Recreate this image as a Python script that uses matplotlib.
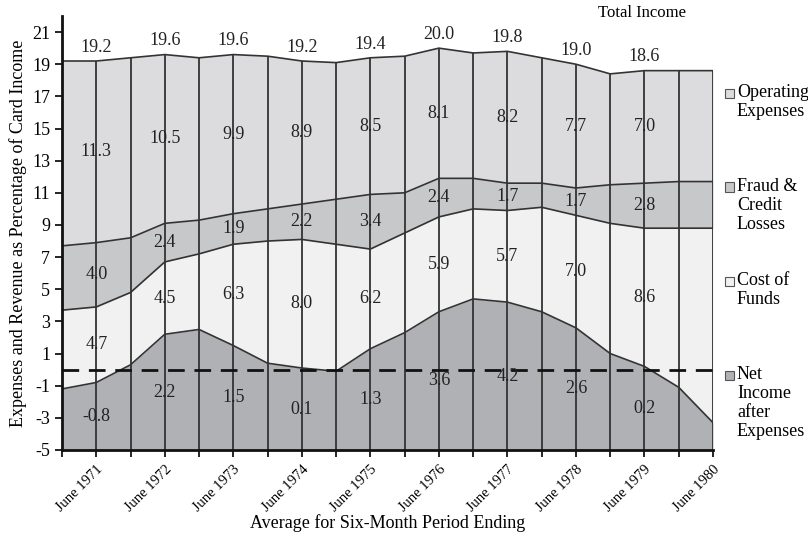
import matplotlib
matplotlib.use("Agg")
import matplotlib.pyplot as plt
from matplotlib.patches import Rectangle

# half-year periods, Dec 1970 .. June 1980
periods = ["Dec 1970", "June 1971", "Dec 1971", "June 1972", "Dec 1972", "June 1973",
           "Dec 1973", "June 1974", "Dec 1974", "June 1975", "Dec 1975", "June 1976",
           "Dec 1976", "June 1977", "Dec 1977", "June 1978", "Dec 1978", "June 1979",
           "Dec 1979", "June 1980"]

# layer boundaries (percent of card income)
total_income = [19.2, 19.2, 19.4, 19.6, 19.4, 19.6, 19.5, 19.2, 19.1, 19.4,
                19.5, 20.0, 19.7, 19.8, 19.4, 19.0, 18.4, 18.6, 18.6, 18.6]
fraud_top = [7.7, 7.9, 8.2, 9.1, 9.3, 9.7, 10.0, 10.3, 10.6, 10.9,
             11.0, 11.9, 11.9, 11.6, 11.6, 11.3, 11.5, 11.6, 11.7, 11.7]
funds_top = [3.7, 3.9, 4.8, 6.7, 7.2, 7.8, 8.0, 8.1, 7.8, 7.5,
             8.5, 9.5, 10.0, 9.9, 10.1, 9.6, 9.1, 8.8, 8.8, 8.8]
net_income = [-1.2, -0.8, 0.3, 2.2, 2.5, 1.5, 0.4, 0.1, -0.1, 1.3,
              2.3, 3.6, 4.4, 4.2, 3.6, 2.6, 1.0, 0.2, -1.1, -3.3]

labelled = [1, 3, 5, 7, 9, 11, 13, 15, 17]

legend_items = ["Operating\nExpenses", "Fraud &\nCredit\nLosses", "Cost of\nFunds",
                "Net\nIncome\nafter\nExpenses"]

c_op = "#dcdcde"
c_fraud = "#c7c8ca"
c_funds = "#f1f1f1"
c_net = "#afb1b4"
edge = "#333333"
floor = -5

plt.rcParams["font.family"] = ["Liberation Serif", "DejaVu Serif"]
plt.rcParams["axes.unicode_minus"] = False

fig = plt.figure(figsize=(8.08, 5.37), dpi=100)
ax = fig.add_axes([62 / 808, 87 / 537, 651 / 808, 434 / 537])

x = list(range(len(periods)))
ax.fill_between(x, floor, net_income, color=c_net, lw=0)
ax.fill_between(x, net_income, funds_top, color=c_funds, lw=0)
ax.fill_between(x, funds_top, fraud_top, color=c_fraud, lw=0)
ax.fill_between(x, fraud_top, total_income, color=c_op, lw=0)
for b in (net_income, funds_top, fraud_top, total_income):
    ax.plot(x, b, color=edge, lw=1.2)
ax.vlines(x, floor, total_income, color=edge, lw=1.3)
ax.axhline(0, color="#111111", lw=2, ls=(0, (6, 3.5)))

for i in labelled:
    layers = [(floor, net_income[i], net_income[i]),
              (net_income[i], funds_top[i], funds_top[i] - net_income[i]),
              (funds_top[i], fraud_top[i], fraud_top[i] - funds_top[i]),
              (fraud_top[i], total_income[i], total_income[i] - fraud_top[i])]
    for lo, hi, v in layers:
        ax.text(i, (lo + hi) / 2, f"{v:.1f}", ha="center", va="center", fontsize=13, color="#222222")
    ax.text(i, total_income[i] + 0.85, f"{total_income[i]:.1f}", ha="center", va="center",
            fontsize=13, color="#222222")

ax.set_xlim(0, len(periods) - 1)
ax.set_ylim(floor, 22)
ax.set_yticks(range(-5, 22, 2))
ax.set_xticks(x)
ax.set_xticklabels([p if i in labelled or i == 19 else "" for i, p in enumerate(periods)],
                   rotation=45, ha="right", va="top", rotation_mode="anchor", fontsize=10.5)
ax.tick_params(axis="y", labelsize=13, length=5, width=1.2, direction="out")
ax.tick_params(axis="x", length=5, width=1.2, direction="out", pad=4)
for s in ("top", "right"):
    ax.spines[s].set_visible(False)
for s in ("left", "bottom"):
    ax.spines[s].set_linewidth(2)
    ax.spines[s].set_color("#111111")
ax.set_xlabel("Average for Six-Month Period Ending", fontsize=13, va="center")
ax.xaxis.set_label_coords(326 / 651, -73 / 434)
ax.set_ylabel("Expenses and Revenue as Percentage of Card Income", fontsize=13, labelpad=4)

fig.text(642 / 808, 1 - 13 / 537, "Total Income", ha="center", va="center", fontsize=12)

leg_colors = [c_op, c_fraud, c_funds, c_net]
leg_y = [93, 187, 281, 375]
for txt, col, yy in zip(legend_items, leg_colors, leg_y):
    fig.patches.append(Rectangle((725 / 808, 1 - (yy + 4.5) / 537), 9 / 808, 9 / 537,
                                 transform=fig.transFigure, facecolor=col,
                                 edgecolor="#555555", lw=0.8))
    fig.text(737 / 808, 1 - (yy - 9) / 537, txt, ha="left", va="top", fontsize=13,
             linespacing=1.15)

fig.savefig("out.png", dpi=100)
